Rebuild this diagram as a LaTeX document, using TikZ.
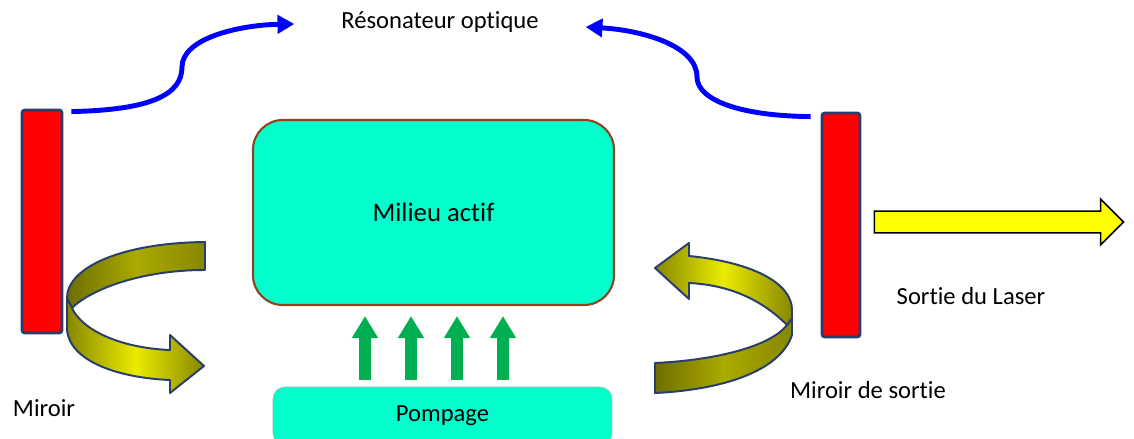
\documentclass[tikz,border=0pt]{standalone}
\usepackage{fontspec}
\setmainfont{Carlito}[Ligatures=NoCommon]
\usepackage{xcolor}
\usetikzlibrary{arrows.meta,shapes.arrows}

\begin{document}
\begin{tikzpicture}[x=0.025cm, y=-0.025cm, font=\fontsize{17.5}{21}\selectfont]

  \definecolor{my_red}{RGB}{255,0,0}
  \definecolor{my_navy}{RGB}{41,62,106}
  \definecolor{my_cyan}{RGB}{0,255,204}
  \definecolor{my_brown}{RGB}{140,70,30}
  \definecolor{my_green}{RGB}{0,176,80}
  \definecolor{my_blue}{RGB}{0,0,255}
  \definecolor{my_yellow}{RGB}{255,255,0}
  \definecolor{my_olive}{RGB}{135,135,0}
  \definecolor{my_olive_mid}{RGB}{170,170,0}
  \definecolor{my_olive_dark}{RGB}{110,110,0}
  \definecolor{my_olive_light}{RGB}{235,235,0}

  \tikzstyle{mirror} = [rectangle, draw=my_navy, fill=my_red, line width=2pt, rounded corners=2pt]
  \tikzstyle{medium} = [rectangle, draw=my_brown, fill=my_cyan, line width=1.5pt, rounded corners=0.75cm, text centered]
  \tikzstyle{pumpbox} = [rectangle, draw=gray!60, fill=my_cyan, rounded corners=0.3cm, text centered]
  \tikzstyle{pump} = [draw=my_green, line width=0.3cm, -{Triangle[length=0.55cm,width=0.62cm]}]
  \tikzstyle{resonance} = [draw=my_blue, line width=3.5pt, -{Triangle[length=0.42cm,width=0.45cm]}]
  \tikzstyle{ribbon} = [draw=my_navy, line width=1.4pt, line join=round]
  \tikzstyle{ribbonback} = [ribbon, left color=my_olive_dark, right color=my_olive, middle color=my_olive_mid]
  \tikzstyle{ribbonfront} = [ribbon, left color=my_olive, right color=my_olive, middle color=my_olive_light]

  \useasboundingbox (0,0) rectangle (1134,439);

  \node [mirror, minimum width=1cm, minimum height=5.575cm] (mirL) at (42,221.5) {};
  \node [mirror, minimum width=0.95cm, minimum height=5.6cm] (mirR) at (841,225) {};

  \node [medium, minimum width=9.025cm, minimum height=4.625cm, font=\fontsize{19}{23}\selectfont] (mil) at (433.5,212.5) {Milieu actif};
  \node [pumpbox, minimum width=8.475cm, minimum height=1.45cm] (pomp) at (442.5,416) {Pompage};

  \node (reso) at (440,22) {Résonateur optique};
  \node (sortie) at (971,296) {Sortie du Laser};
  \node (mirLtext) at (44,408) {Miroir};
  \node (mirRtext) at (868,390) {Miroir de sortie};

  \node [single arrow, draw=black, fill=my_yellow, line width=1.2pt, minimum width=1.1cm, minimum height=6.225cm,
         single arrow head extend=0.3cm, single arrow head indent=0pt, inner xsep=0pt, inner ysep=0.25cm] (out) at (993.5,222) {};

  \foreach \xp in {365,411,457,503} {
    \coordinate (p\xp) at (\xp,0);
    \draw [pump, shorten <=0.175cm, shorten >=0.25cm] (pomp.north -| p\xp) -- (mil.south -| p\xp);
  }

  \path [resonance] ([shift={(8,3)}]mirL.north east) .. controls (150,110) and (182,95) .. (182,67)
        .. controls (182,38) and (240,25) .. ([shift={(-42,2)}]reso.west);
  \path [resonance] ([shift={(-10,5)}]mirR.north west) .. controls (740,116) and (697,100) .. (697,77)
        .. controls (697,45) and (640,30) .. ([shift={(42,5)}]reso.east);

  \shadedraw [ribbonback] (205,242) .. controls (120,243) and (67,268) .. (67,298) -- (72,308)
        .. controls (90,290) and (140,270) .. (205,270) -- cycle;
  \shadedraw [ribbonfront] (67,298) -- (67,330) .. controls (70,362) and (120,378) .. (170,380)
        -- (170,393) -- (204,366) -- (170,335) -- (170,350) .. controls (120,348) and (82,330) .. (72,308) -- cycle;

  \shadedraw [ribbonback] (787,325) -- (792,318) -- (792,335) .. controls (780,372) and (720,390) .. (655,393)
        -- (655,363) .. controls (720,360) and (772,345) .. (787,325) -- cycle;
  \shadedraw [ribbonfront] (689,256) .. controls (750,262) and (792,282) .. (792,310) -- (792,318) -- (787,325)
        .. controls (762,300) and (730,285) .. (689,283) -- (689,299) -- (655,268) -- (689,243) -- cycle;

\end{tikzpicture}
\end{document}
